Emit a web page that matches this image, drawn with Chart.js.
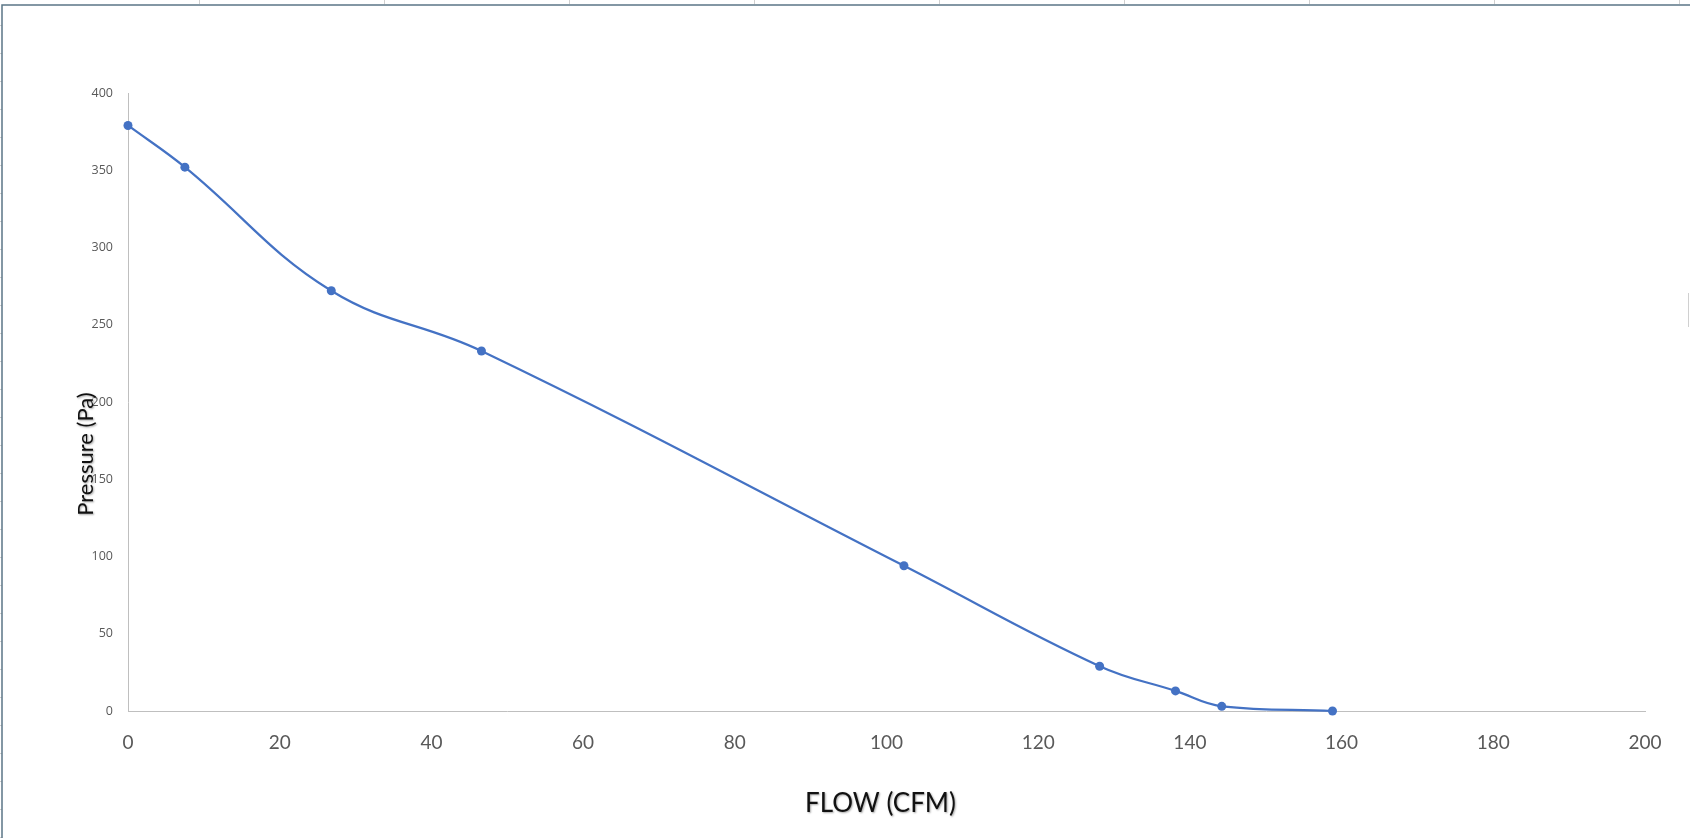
<!DOCTYPE html>
<html>
<head>
<meta charset="utf-8">
<script src="https://cdn.jsdelivr.net/npm/chart.js@4.4.1/dist/chart.umd.min.js"></script>
<style>
  html, body { margin: 0; padding: 0; background: #fff; }
  #wrap { width: 1690px; height: 838px; }
</style>
</head>
<body>
<div id="wrap"><canvas id="graph" width="1690" height="838"></canvas></div>
<script>
// fan curve
let flow = [0, 7.5, 26.8, 46.6, 102.3, 128.1, 138.1, 144.2, 158.8];
let pressure = [379, 352, 272, 233, 94, 29, 13, 3, 0];
let xTicks = [0, 20, 40, 60, 80, 100, 120, 140, 160, 180, 200];
let yTicks = [0, 50, 100, 150, 200, 250, 300, 350, 400];

let points = flow.map((f, i) => ({ x: f, y: pressure[i] }));

// sheet frame behind the chart + the two axis titles
let sheetAndTitles = {
  id: "sheetAndTitles",
  beforeDraw(chart) {
    let c = chart.ctx;
    c.save();
    c.fillStyle = "#fff";
    c.fillRect(0, 0, chart.width, chart.height);
    c.strokeStyle = "#d0d0d0";
    c.lineWidth = 1;
    for (let k = 0; k < 9; k++) {
      let x = Math.round(198.5 + 185.1 * k) + 0.5;
      c.beginPath(); c.moveTo(x, 0); c.lineTo(x, 4); c.stroke();
    }
    for (let y = 25; y < chart.height; y += 28) {
      c.beginPath(); c.moveTo(0, y + 0.5); c.lineTo(2, y + 0.5); c.stroke();
    }
    c.beginPath(); c.moveTo(1688.5, 293); c.lineTo(1688.5, 327); c.stroke();
    c.strokeStyle = "#5b7687";
    c.lineWidth = 1.5;
    c.beginPath();
    c.moveTo(chart.width, 5);
    c.lineTo(2, 5);
    c.lineTo(2, chart.height);
    c.stroke();
    c.restore();
  },
  afterDraw(chart) {
    let c = chart.ctx;
    let a = chart.chartArea;
    c.save();
    c.shadowColor = "rgba(0,0,0,0.35)";
    c.shadowBlur = 2;
    c.shadowOffsetX = 1;
    c.shadowOffsetY = 1;
    c.fillStyle = "#111";
    c.textAlign = "center";
    c.textBaseline = "middle";
    c.font = "26px Lato";
    c.fillText("FLOW (CFM)", (a.left + a.right) / 2 - 6, a.bottom + 93);
    c.translate(86, (a.top + a.bottom) / 2 + 52);
    c.rotate(-Math.PI / 2);
    c.font = "22px Lato";
    c.fillText("Pressure (Pa)", 0, 0);
    c.restore();
  },
};

let fanChart = new Chart(document.getElementById("graph").getContext("2d"), {
  type: "scatter",
  data: {
    datasets: [
      {
        label: "Pressure",
        data: points,
        showLine: true,
        tension: 0.4,
        clip: false,
        borderColor: "#4472C4",
        borderWidth: 2.2,
        backgroundColor: "#4472C4",
        pointRadius: 4.5,
        pointBorderWidth: 0,
      },
    ],
  },
  options: {
    responsive: false,
    animation: false,
    layout: { padding: { left: 0, top: 93, right: 45, bottom: 0 } },
    plugins: {
      legend: { display: false },
      tooltip: { enabled: false },
    },
    scales: {
      x: {
        type: "linear",
        min: 0,
        max: 200,
        afterFit(s) { s.height = 127; },
        afterBuildTicks(s) { s.ticks = xTicks.map((v) => ({ value: v })); },
        grid: { display: false },
        border: { display: true, color: "#bfbfbf", width: 1 },
        ticks: {
          padding: 12,
          color: "#595959",
          font: { family: "Lato", size: 19 },
        },
      },
      y: {
        min: 0,
        max: 400,
        afterFit(s) { s.width = 128; },
        afterBuildTicks(s) { s.ticks = yTicks.map((v) => ({ value: v })); },
        grid: { display: false },
        border: { display: true, color: "#bfbfbf", width: 1 },
        ticks: {
          padding: 7,
          color: "#595959",
          font: { family: "Open Sans", size: 12.5 },
        },
      },
    },
  },
  plugins: [sheetAndTitles],
});
</script>
</body>
</html>
